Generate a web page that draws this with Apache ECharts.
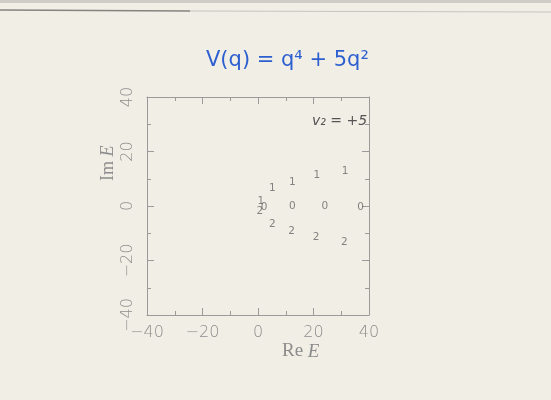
<!DOCTYPE html>
<html>
<head>
<meta charset="utf-8">
<script src="https://cdn.jsdelivr.net/npm/echarts@6/dist/echarts.min.js"></script>
<style>
html,body{margin:0;padding:0;background:#f1efe5;}
#c{width:551px;height:400px;}
</style>
</head>
<body>
<div id="c"></div>
<script>
// Data (Re E, Im E), labelled by level index
const level0Re = [2.2, 12.4, 24.1, 37.0];
const level0Im = [-0.3, 0, 0, -0.3];
const level1Re = [1.0, 5.2, 12.4, 21.2, 31.4];
const level1Im = [1.6, 6.5, 8.6, 11.1, 12.8];
const level2Re = [0.7, 5.2, 12.1, 20.9, 31.1];
const level2Im = [-2.1, -6.7, -9.2, -11.6, -13.3];
const axisTicks = [-40, -20, 0, 20, 40];
const titleText = 'V(q) = q⁴ + 5q²';
const noteText = 'v₂ = +5';

const pairs = (xs, ys) => xs.map((x, i) => [x, ys[i]]);
const minus = v => String(v).replace('-', '−');
const labelColor = '#8c8c8c';
const lineColor = '#9a9a9a';

function levelSeries(name, xs, ys) {
  return {
    type: 'scatter', name: name, data: pairs(xs, ys),
    symbolSize: 1, itemStyle: { color: 'rgba(0,0,0,0)' },
    silent: true,
    label: { show: true, position: 'inside', formatter: name,
      color: '#666', fontSize: 10.5, fontFamily: 'DejaVu Sans' }
  };
}

const baseAxis = {
  type: 'value', min: axisTicks[0], max: axisTicks[axisTicks.length - 1], interval: 20,
  axisLine: { show: true, onZero: false, lineStyle: { color: lineColor, width: 1 } },
  axisTick: { show: true, inside: true, length: 7, lineStyle: { color: lineColor } },
  minorTick: { show: true, splitNumber: 2, length: 4, lineStyle: { color: lineColor } },
  splitLine: { show: false }
};

const chart = echarts.init(document.getElementById('c'), null, { renderer: 'canvas' });
chart.setOption({
  backgroundColor: '#f1efe5',
  animation: false,
  grid: { left: 147, right: 182, top: 97, bottom: 85 },
  xAxis: [
    Object.assign({}, baseAxis, { position: 'bottom',
      axisLabel: { show: true, margin: 10, color: labelColor, fontSize: 16, fontFamily: 'DejaVu Sans', fontWeight: 200, formatter: minus } }),
    Object.assign({}, baseAxis, { position: 'top', axisLabel: { show: false } })
  ],
  yAxis: [
    Object.assign({}, baseAxis, { position: 'left',
      axisLabel: { show: true, rotate: 90, margin: 11, color: labelColor, fontSize: 16, fontFamily: 'DejaVu Sans', fontWeight: 200, formatter: minus } }),
    Object.assign({}, baseAxis, { position: 'right', axisLabel: { show: false } })
  ],
  series: [
    levelSeries('0', level0Re, level0Im),
    levelSeries('1', level1Re, level1Im),
    levelSeries('2', level2Re, level2Im)
  ],
  graphic: [
    { type: 'line', shape: { x1: 0, y1: 10, x2: 190, y2: 11 }, style: { stroke: '#555', lineWidth: 1.5, opacity: 0.7 } },
    { type: 'line', shape: { x1: 190, y1: 11, x2: 551, y2: 12 }, style: { stroke: '#999', lineWidth: 1, opacity: 0.5 } },
    { type: 'rect', shape: { x: 0, y: 0, width: 551, height: 3 }, style: { fill: '#cfcdc5' } },
    { type: 'text', left: 206, top: 50, style: { text: titleText, fill: '#2d5fd0', fontSize: 21, fontFamily: 'DejaVu Sans' } },
    { type: 'text', left: 312, top: 114, style: { text: noteText, fill: '#555', fontSize: 14, fontFamily: 'DejaVu Sans', fontStyle: 'italic' } },
    { type: 'text', left: 282, top: 342, style: {
      text: '{r|Re }{e|E}', fill: labelColor,
      rich: { r: { fontSize: 19, fontFamily: 'Liberation Serif', fill: labelColor },
              e: { fontSize: 19, fontFamily: 'Liberation Serif', fontStyle: 'italic', fill: labelColor } } } },
    { type: 'text', x: 99, y: 181, rotation: Math.PI / 2, style: {
      text: '{r|Im }{e|E}', fill: labelColor,
      rich: { r: { fontSize: 18, fontFamily: 'Liberation Serif', fill: labelColor },
              e: { fontSize: 18, fontFamily: 'Liberation Serif', fontStyle: 'italic', fill: labelColor } } } }
  ]
});
</script>
</body>
</html>
